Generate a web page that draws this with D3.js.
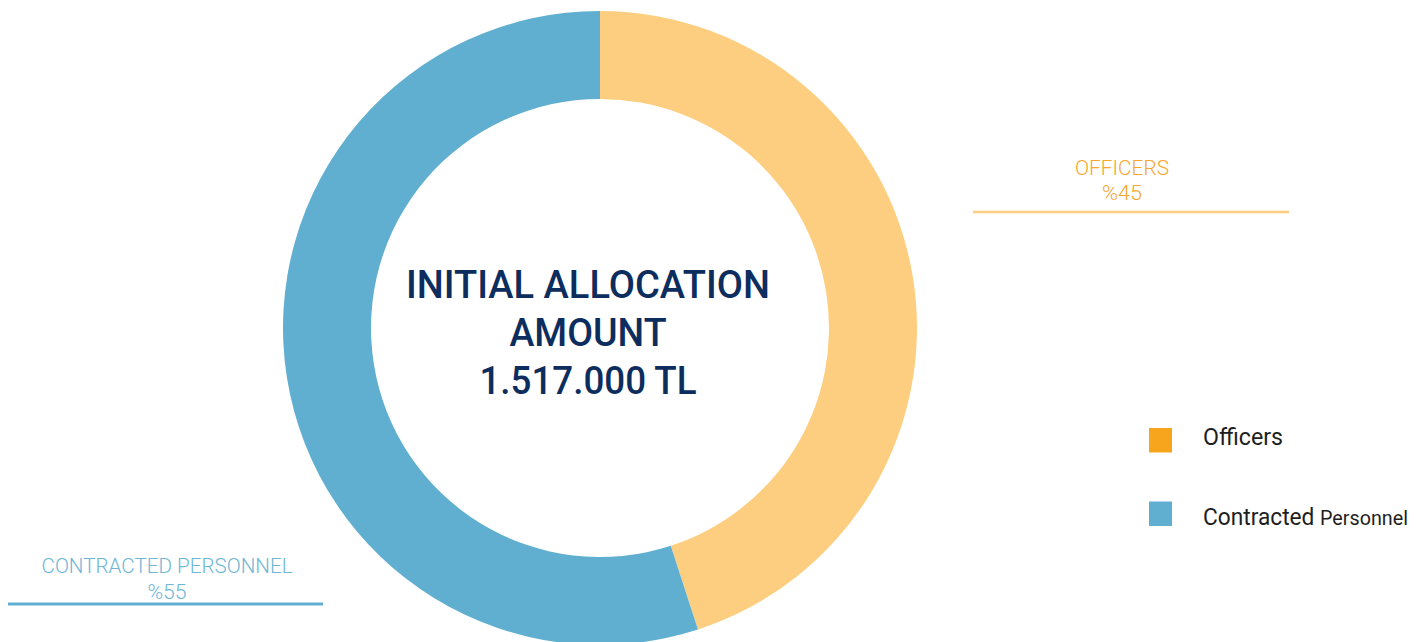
<!DOCTYPE html>
<html>
<head>
<meta charset="utf-8">
<script src="https://cdn.jsdelivr.net/npm/d3@7/dist/d3.min.js"></script>
<style>
  html, body { margin: 0; padding: 0; background: #fff; }
  svg { display: block; }
  text { font-family: Roboto, "Noto Sans", sans-serif; }
</style>
</head>
<body>
<script>
// Allocation split between the two staff groups
const categories = ["Officers", "Contracted Personnel"];
const shares = [45, 55];
const calloutLabels = ["OFFICERS", "CONTRACTED PERSONNEL"];
const centerLines = ["INITIAL ALLOCATION", "AMOUNT", "1.517.000 TL"];

const W = 1425, H = 642;
const cx = 600, cy = 328, rOuter = 317, rInner = 229;

const sliceColor = d3.scaleOrdinal().domain(categories).range(["#FECE80", "#60AFD1"]);
const legendColor = d3.scaleOrdinal().domain(categories).range(["#F8A51E", "#60AFD1"]);
const labelColor = d3.scaleOrdinal().domain(categories).range(["#F6A62B", "#6DB6D6"]);
const ruleColor = d3.scaleOrdinal().domain(categories).range(["#FECE80", "#60AFD1"]);

const svg = d3.select("body").append("svg").attr("width", W).attr("height", H);

const data = categories.map((c, i) => ({ name: c, value: shares[i], label: calloutLabels[i] }));

const pie = d3.pie().value(d => d.value).sort(null);
const arc = d3.arc().innerRadius(rInner).outerRadius(rOuter);

const g = svg.append("g").attr("transform", `translate(${cx},${cy})`);
g.selectAll("path")
  .data(pie(data))
  .join("path")
  .attr("d", arc)
  .attr("fill", d => sliceColor(d.data.name));

// Center title
const title = svg.append("g").attr("fill", "#0C2D5E").attr("font-weight", 500).attr("text-anchor", "middle");
const titleY = [298, 346, 394];
const titleLen = [364, 157, 217];
centerLines.forEach((t, i) => {
  title.append("text")
    .attr("x", 588)
    .attr("y", titleY[i])
    .attr("font-size", 38)
    .attr("textLength", titleLen[i])
    .attr("lengthAdjust", "spacingAndGlyphs")
    .text(t);
});

// Callout labels with underline rules
const callouts = [
  { x1: 973, x2: 1289, tx: 1122, ruleY: 212, y1: 175, y2: 200, w1: 94, w2: 40, sw: 2.7 },
  { x1: 8, x2: 323, tx: 167, ruleY: 604, y1: 573, y2: 599, w1: 251, w2: 39, sw: 3 }
];
data.forEach((d, i) => {
  const c = callouts[i];
  const cg = svg.append("g").attr("text-anchor", "middle").attr("fill", labelColor(d.name)).attr("font-weight", 300);
  cg.append("text").attr("x", c.tx).attr("y", c.y1).attr("font-size", 21)
    .attr("textLength", c.w1).attr("lengthAdjust", "spacingAndGlyphs").text(d.label);
  cg.append("text").attr("x", c.tx).attr("y", c.y2).attr("font-size", 21)
    .attr("textLength", c.w2).attr("lengthAdjust", "spacingAndGlyphs").text("%" + d.value);
  svg.append("line")
    .attr("x1", c.x1).attr("x2", c.x2)
    .attr("y1", c.ruleY).attr("y2", c.ruleY)
    .attr("stroke", ruleColor(d.name)).attr("stroke-width", c.sw);
});

// Legend
const legend = svg.append("g").attr("transform", "translate(1149,428)");
const items = legend.selectAll("g").data(categories).join("g")
  .attr("transform", (d, i) => `translate(0,${i * 73.5})`);
items.append("rect").attr("width", 23).attr("height", 24.5).attr("fill", d => legendColor(d));
items.each(function (d, i) {
  const t = d3.select(this).append("text")
    .attr("x", 54).attr("y", i === 0 ? 17 : 23.5)
    .attr("fill", "#1E1E1E");
  if (i === 0) {
    t.attr("font-size", 23).attr("textLength", 80).attr("lengthAdjust", "spacingAndGlyphs").text(d);
  } else {
    const parts = d.split(" ");
    t.append("tspan").attr("font-size", 23).text(parts[0] + " ");
    t.append("tspan").attr("font-size", 20).text(parts.slice(1).join(" "));
    t.attr("textLength", 205).attr("lengthAdjust", "spacingAndGlyphs");
  }
});
</script>
</body>
</html>
